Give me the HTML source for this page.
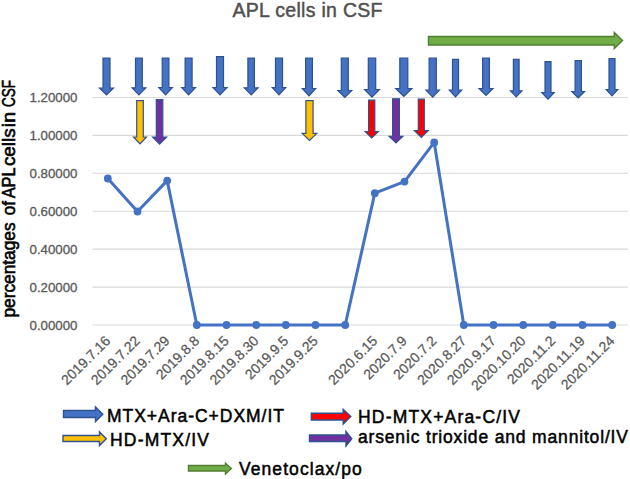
<!DOCTYPE html><html><head><meta charset="utf-8"><style>html,body{margin:0;padding:0;background:#fff;}svg{display:block;}text{font-family:"Liberation Sans",sans-serif;}</style></head><body>
<svg width="630" height="479" viewBox="0 0 630 479">
<rect width="630" height="479" fill="#fff"/>
<text x="232.5" y="17" font-size="19.5" fill="#505050" stroke="#505050" stroke-width="0.45" textLength="150" lengthAdjust="spacing">APL cells in CSF</text>
<line x1="92.5" y1="325.0" x2="628" y2="325.0" stroke="#D9D9D9" stroke-width="1.1"/>
<line x1="92.5" y1="287.08" x2="628" y2="287.08" stroke="#D9D9D9" stroke-width="1.1"/>
<line x1="92.5" y1="249.16" x2="628" y2="249.16" stroke="#D9D9D9" stroke-width="1.1"/>
<line x1="92.5" y1="211.23999999999998" x2="628" y2="211.23999999999998" stroke="#D9D9D9" stroke-width="1.1"/>
<line x1="92.5" y1="173.32" x2="628" y2="173.32" stroke="#D9D9D9" stroke-width="1.1"/>
<line x1="92.5" y1="135.4" x2="628" y2="135.4" stroke="#D9D9D9" stroke-width="1.1"/>
<line x1="92.5" y1="97.47999999999996" x2="628" y2="97.47999999999996" stroke="#D9D9D9" stroke-width="1.1"/>
<text x="77.5" y="329.6" font-size="13" fill="#595959" stroke="#595959" stroke-width="0.3" text-anchor="end" textLength="48" lengthAdjust="spacingAndGlyphs">0.00000</text>
<text x="77.5" y="291.7" font-size="13" fill="#595959" stroke="#595959" stroke-width="0.3" text-anchor="end" textLength="48" lengthAdjust="spacingAndGlyphs">0.20000</text>
<text x="77.5" y="253.8" font-size="13" fill="#595959" stroke="#595959" stroke-width="0.3" text-anchor="end" textLength="48" lengthAdjust="spacingAndGlyphs">0.40000</text>
<text x="77.5" y="215.8" font-size="13" fill="#595959" stroke="#595959" stroke-width="0.3" text-anchor="end" textLength="48" lengthAdjust="spacingAndGlyphs">0.60000</text>
<text x="77.5" y="177.9" font-size="13" fill="#595959" stroke="#595959" stroke-width="0.3" text-anchor="end" textLength="48" lengthAdjust="spacingAndGlyphs">0.80000</text>
<text x="77.5" y="140.0" font-size="13" fill="#595959" stroke="#595959" stroke-width="0.3" text-anchor="end" textLength="48" lengthAdjust="spacingAndGlyphs">1.00000</text>
<text x="77.5" y="102.1" font-size="13" fill="#595959" stroke="#595959" stroke-width="0.3" text-anchor="end" textLength="48" lengthAdjust="spacingAndGlyphs">1.20000</text>
<text transform="translate(14.8,317.6) rotate(-90)" x="0" y="0" font-size="18" fill="#000" stroke="#000" stroke-width="0.6" textLength="95.2" lengthAdjust="spacingAndGlyphs">percentages</text>
<text transform="translate(14.8,215.2) rotate(-90)" x="0" y="0" font-size="18" fill="#000" stroke="#000" stroke-width="0.6" textLength="14.2" lengthAdjust="spacingAndGlyphs">of</text>
<text transform="translate(14.8,198.29999999999998) rotate(-90)" x="0" y="0" font-size="18" fill="#000" stroke="#000" stroke-width="0.6" textLength="30.9" lengthAdjust="spacingAndGlyphs">APL</text>
<text transform="translate(14.8,166.1) rotate(-90)" x="0" y="0" font-size="18" fill="#000" stroke="#000" stroke-width="0.6" textLength="37.7" lengthAdjust="spacingAndGlyphs">cells</text>
<text transform="translate(14.8,127.19999999999999) rotate(-90)" x="0" y="0" font-size="18" fill="#000" stroke="#000" stroke-width="0.6" textLength="15.2" lengthAdjust="spacingAndGlyphs">in</text>
<text transform="translate(14.8,106.89999999999999) rotate(-90)" x="0" y="0" font-size="18" fill="#000" stroke="#000" stroke-width="0.6" textLength="27.0" lengthAdjust="spacingAndGlyphs">CSF</text>
<text transform="translate(104.8,335.3) rotate(-45)" x="0" y="0" font-size="14" fill="#595959" stroke="#595959" stroke-width="0.25" text-anchor="end" dy="9">2019.7.16</text>
<text transform="translate(134.5,335.3) rotate(-45)" x="0" y="0" font-size="14" fill="#595959" stroke="#595959" stroke-width="0.25" text-anchor="end" dy="9">2019.7.22</text>
<text transform="translate(164.2,335.3) rotate(-45)" x="0" y="0" font-size="14" fill="#595959" stroke="#595959" stroke-width="0.25" text-anchor="end" dy="9">2019.7.29</text>
<text transform="translate(193.8,335.3) rotate(-45)" x="0" y="0" font-size="14" fill="#595959" stroke="#595959" stroke-width="0.25" text-anchor="end" dy="9">2019.8.8</text>
<text transform="translate(223.5,335.3) rotate(-45)" x="0" y="0" font-size="14" fill="#595959" stroke="#595959" stroke-width="0.25" text-anchor="end" dy="9">2019.8.15</text>
<text transform="translate(253.2,335.3) rotate(-45)" x="0" y="0" font-size="14" fill="#595959" stroke="#595959" stroke-width="0.25" text-anchor="end" dy="9">2019.8.30</text>
<text transform="translate(282.8,335.3) rotate(-45)" x="0" y="0" font-size="14" fill="#595959" stroke="#595959" stroke-width="0.25" text-anchor="end" dy="9">2019.9.5</text>
<text transform="translate(312.5,335.3) rotate(-45)" x="0" y="0" font-size="14" fill="#595959" stroke="#595959" stroke-width="0.25" text-anchor="end" dy="9">2019.9.25</text>
<text transform="translate(371.8,335.3) rotate(-45)" x="0" y="0" font-size="14" fill="#595959" stroke="#595959" stroke-width="0.25" text-anchor="end" dy="9">2020.6.15</text>
<text transform="translate(401.5,335.3) rotate(-45)" x="0" y="0" font-size="14" fill="#595959" stroke="#595959" stroke-width="0.25" text-anchor="end" dy="9">2020.7.9</text>
<text transform="translate(431.2,335.3) rotate(-45)" x="0" y="0" font-size="14" fill="#595959" stroke="#595959" stroke-width="0.25" text-anchor="end" dy="9">2020.7.2</text>
<text transform="translate(460.8,335.3) rotate(-45)" x="0" y="0" font-size="14" fill="#595959" stroke="#595959" stroke-width="0.25" text-anchor="end" dy="9">2020.8.27</text>
<text transform="translate(490.5,335.3) rotate(-45)" x="0" y="0" font-size="14" fill="#595959" stroke="#595959" stroke-width="0.25" text-anchor="end" dy="9">2020.9.17</text>
<text transform="translate(520.2,335.3) rotate(-45)" x="0" y="0" font-size="14" fill="#595959" stroke="#595959" stroke-width="0.25" text-anchor="end" dy="9">2020.10.20</text>
<text transform="translate(549.8,335.3) rotate(-45)" x="0" y="0" font-size="14" fill="#595959" stroke="#595959" stroke-width="0.25" text-anchor="end" dy="9">2020.11.2</text>
<text transform="translate(579.5,335.3) rotate(-45)" x="0" y="0" font-size="14" fill="#595959" stroke="#595959" stroke-width="0.25" text-anchor="end" dy="9">2020.11.19</text>
<text transform="translate(609.2,335.3) rotate(-45)" x="0" y="0" font-size="14" fill="#595959" stroke="#595959" stroke-width="0.25" text-anchor="end" dy="9">2020.11.24</text>
<polyline points="107.8,178.5 137.5,211.5 167.2,180.6 196.8,325.0 226.5,325.0 256.2,325.0 285.8,325.0 315.5,325.0 345.2,325.0 374.8,193.2 404.5,181.6 434.2,142.4 463.8,325.0 493.5,325.0 523.2,325.0 552.8,325.0 582.5,325.0 612.2,325.0" fill="none" stroke="#4472C4" stroke-width="3" stroke-linejoin="round"/>
<circle cx="107.8" cy="178.5" r="3.9" fill="#4472C4"/>
<circle cx="137.5" cy="211.5" r="3.9" fill="#4472C4"/>
<circle cx="167.2" cy="180.6" r="3.9" fill="#4472C4"/>
<circle cx="196.8" cy="325.0" r="3.9" fill="#4472C4"/>
<circle cx="226.5" cy="325.0" r="3.9" fill="#4472C4"/>
<circle cx="256.2" cy="325.0" r="3.9" fill="#4472C4"/>
<circle cx="285.8" cy="325.0" r="3.9" fill="#4472C4"/>
<circle cx="315.5" cy="325.0" r="3.9" fill="#4472C4"/>
<circle cx="345.2" cy="325.0" r="3.9" fill="#4472C4"/>
<circle cx="374.8" cy="193.2" r="3.9" fill="#4472C4"/>
<circle cx="404.5" cy="181.6" r="3.9" fill="#4472C4"/>
<circle cx="434.2" cy="142.4" r="3.9" fill="#4472C4"/>
<circle cx="463.8" cy="325.0" r="3.9" fill="#4472C4"/>
<circle cx="493.5" cy="325.0" r="3.9" fill="#4472C4"/>
<circle cx="523.2" cy="325.0" r="3.9" fill="#4472C4"/>
<circle cx="552.8" cy="325.0" r="3.9" fill="#4472C4"/>
<circle cx="582.5" cy="325.0" r="3.9" fill="#4472C4"/>
<circle cx="612.2" cy="325.0" r="3.9" fill="#4472C4"/>
<polygon points="103.0,58.0 110.0,58.0 110.0,88.0 113.5,88.0 106.5,94.8 99.5,88.0 103.0,88.0" fill="#4472C4" stroke="#2F528F" stroke-width="1.2"/>
<polygon points="135.5,58.0 142.3,58.0 142.3,87.8 145.8,87.8 138.9,94.8 132.1,87.8 135.5,87.8" fill="#4472C4" stroke="#2F528F" stroke-width="1.2"/>
<polygon points="162.2,58.0 168.9,58.0 168.9,87.5 172.4,87.5 165.6,94.8 158.8,87.5 162.2,87.5" fill="#4472C4" stroke="#2F528F" stroke-width="1.2"/>
<polygon points="185.1,58.0 192.1,58.0 192.1,87.5 195.5,87.5 188.6,94.8 181.7,87.5 185.1,87.5" fill="#4472C4" stroke="#2F528F" stroke-width="1.2"/>
<polygon points="216.5,56.7 223.5,56.7 223.5,87.5 227.0,87.5 220.0,94.8 213.0,87.5 216.5,87.5" fill="#4472C4" stroke="#2F528F" stroke-width="1.2"/>
<polygon points="247.9,58.0 254.4,58.0 254.4,87.8 258.1,87.8 251.2,94.8 244.3,87.8 247.9,87.8" fill="#4472C4" stroke="#2F528F" stroke-width="1.2"/>
<polygon points="275.5,58.0 282.5,58.0 282.5,87.5 285.7,87.5 279.0,94.8 272.3,87.5 275.5,87.5" fill="#4472C4" stroke="#2F528F" stroke-width="1.2"/>
<polygon points="305.6,58.0 312.4,58.0 312.4,88.5 315.7,88.5 309.0,95.8 302.3,88.5 305.6,88.5" fill="#4472C4" stroke="#2F528F" stroke-width="1.2"/>
<polygon points="341.3,58.0 348.3,58.0 348.3,90.5 351.7,90.5 344.8,97.5 337.9,90.5 341.3,90.5" fill="#4472C4" stroke="#2F528F" stroke-width="1.2"/>
<polygon points="368.3,58.0 375.7,58.0 375.7,89.5 379.4,89.5 372.0,97.1 364.6,89.5 368.3,89.5" fill="#4472C4" stroke="#2F528F" stroke-width="1.2"/>
<polygon points="399.8,58.0 407.8,58.0 407.8,88.5 411.9,88.5 403.8,96.3 395.7,88.5 399.8,88.5" fill="#4472C4" stroke="#2F528F" stroke-width="1.2"/>
<polygon points="429.1,58.0 436.3,58.0 436.3,90.0 439.4,90.0 432.7,97.1 425.9,90.0 429.1,90.0" fill="#4472C4" stroke="#2F528F" stroke-width="1.2"/>
<polygon points="452.5,59.3 458.5,59.3 458.5,90.0 461.7,90.0 455.5,96.8 449.3,90.0 452.5,90.0" fill="#4472C4" stroke="#2F528F" stroke-width="1.2"/>
<polygon points="482.6,58.0 489.4,58.0 489.4,88.5 493.0,88.5 486.0,95.5 479.0,88.5 482.6,88.5" fill="#4472C4" stroke="#2F528F" stroke-width="1.2"/>
<polygon points="513.4,59.3 519.1,59.3 519.1,90.8 522.0,90.8 516.2,96.8 510.5,90.8 513.4,90.8" fill="#4472C4" stroke="#2F528F" stroke-width="1.2"/>
<polygon points="545.0,61.7 551.0,61.7 551.0,92.5 554.3,92.5 548.0,99.1 541.7,92.5 545.0,92.5" fill="#4472C4" stroke="#2F528F" stroke-width="1.2"/>
<polygon points="575.1,60.5 581.4,60.5 581.4,91.5 584.6,91.5 578.2,97.8 571.8,91.5 575.1,91.5" fill="#4472C4" stroke="#2F528F" stroke-width="1.2"/>
<polygon points="609.0,58.5 615.0,58.5 615.0,89.5 617.8,89.5 612.0,95.8 606.2,89.5 609.0,89.5" fill="#4472C4" stroke="#2F528F" stroke-width="1.2"/>
<polygon points="136.7,100.7 143.3,100.7 143.3,137.0 146.5,137.0 140.0,143.8 133.5,137.0 136.7,137.0" fill="#FFC000" stroke="#2F528F" stroke-width="1.2"/>
<polygon points="156.3,99.7 162.8,99.7 162.8,137.0 166.6,137.0 159.6,144.1 152.6,137.0 156.3,137.0" fill="#7030A0" stroke="#2F528F" stroke-width="1.2"/>
<polygon points="305.9,100.7 313.1,100.7 313.1,133.4 316.8,133.4 309.5,140.5 302.2,133.4 305.9,133.4" fill="#FFC000" stroke="#2F528F" stroke-width="1.2"/>
<polygon points="368.6,100.2 374.8,100.2 374.8,131.5 378.3,131.5 371.7,138.0 365.1,131.5 368.6,131.5" fill="#FF0000" stroke="#2F528F" stroke-width="1.2"/>
<polygon points="392.6,98.8 399.4,98.8 399.4,136.3 402.9,136.3 396.0,143.0 389.1,136.3 392.6,136.3" fill="#7030A0" stroke="#2F528F" stroke-width="1.2"/>
<polygon points="418.3,99.2 424.3,99.2 424.3,130.6 428.2,130.6 421.3,137.3 414.4,130.6 418.3,130.6" fill="#FF0000" stroke="#2F528F" stroke-width="1.2"/>
<polygon points="428.5,36.5 614.3,36.5 614.3,32.5 622.5,40.5 614.3,48.5 614.3,45.0 428.5,45.0" fill="#70AD47" stroke="#507E32" stroke-width="1.4"/>
<polygon points="63.5,410.5 95.5,410.5 95.5,407.0 102.8,414.2 95.5,421.5 95.5,417.5 63.5,417.5" fill="#4472C4" stroke="#2F528F" stroke-width="1.4"/>
<polygon points="63.0,435.5 99.5,435.5 99.5,432.0 106.3,438.8 99.5,445.5 99.5,441.5 63.0,441.5" fill="#FFC000" stroke="#2F528F" stroke-width="1.4"/>
<polygon points="311.3,413.3 343.2,413.3 343.2,409.3 350.8,416.6 343.2,424.0 343.2,420.0 311.3,420.0" fill="#FF0000" stroke="#2F528F" stroke-width="1.4"/>
<polygon points="309.5,435.0 346.0,435.0 346.0,431.5 351.8,438.8 346.0,446.0 346.0,441.5 309.5,441.5" fill="#7030A0" stroke="#2F528F" stroke-width="1.4"/>
<polygon points="188.5,465.5 225.5,465.5 225.5,463.3 231.3,468.6 225.5,474.0 225.5,471.0 188.5,471.0" fill="#70AD47" stroke="#507E32" stroke-width="1.4"/>
<text x="107" y="422" font-size="17.5" fill="#000" stroke="#000" stroke-width="0.5" textLength="177" lengthAdjust="spacing">MTX+Ara-C+DXM/IT</text>
<text x="110" y="446" font-size="17.5" fill="#000" stroke="#000" stroke-width="0.5" textLength="99" lengthAdjust="spacing">HD-MTX/IV</text>
<text x="358" y="422.5" font-size="17.5" fill="#000" stroke="#000" stroke-width="0.5" textLength="162" lengthAdjust="spacing">HD-MTX+Ara-C/IV</text>
<text x="358" y="442.5" font-size="17.5" fill="#000" stroke="#000" stroke-width="0.5" textLength="270" lengthAdjust="spacing">arsenic trioxide and mannitol/IV</text>
<text x="239" y="475.2" font-size="17.5" fill="#000" stroke="#000" stroke-width="0.5" textLength="122.7" lengthAdjust="spacing">Venetoclax/po</text>
</svg></body></html>
